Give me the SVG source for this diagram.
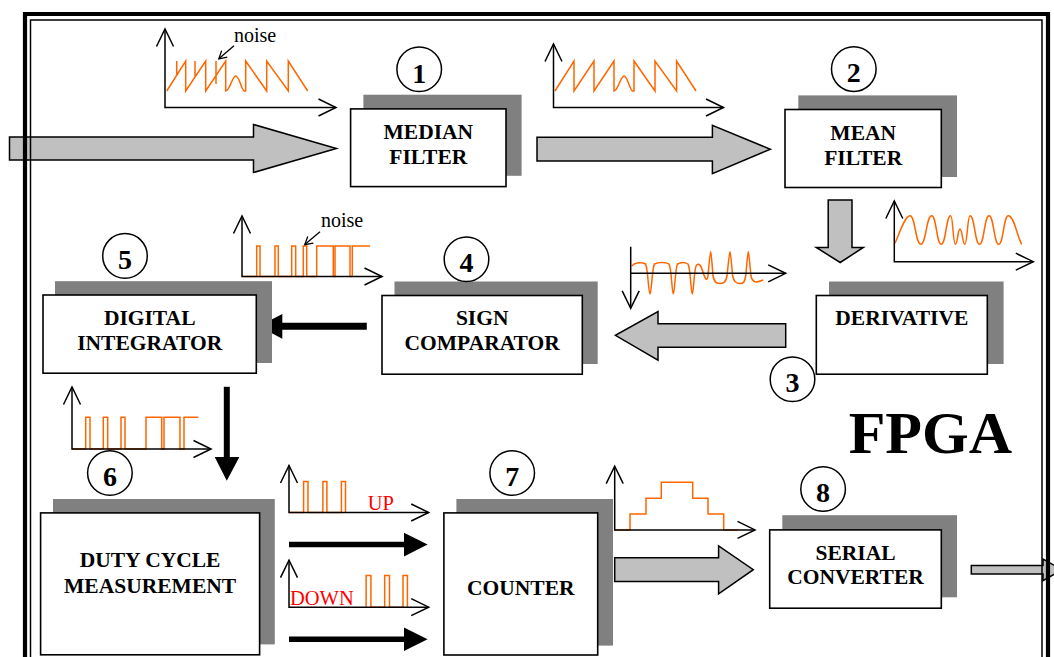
<svg xmlns="http://www.w3.org/2000/svg" width="1054" height="657" viewBox="0 0 1054 657">
<style>
.sh{fill:#808080}
.box{fill:#fff;stroke:#000;stroke-width:1.6}
.lbl{font-family:"Liberation Serif","Times New Roman",serif;font-weight:bold;font-size:21.5px;text-anchor:middle;fill:#000}
.num{font-family:"Liberation Serif","Times New Roman",serif;font-weight:bold;font-size:28px;text-anchor:middle;fill:#000}
.circ{fill:#fff;stroke:#000;stroke-width:1.5}
.ax{fill:none;stroke:#000;stroke-width:1.5;marker-end:url(#ah)}
.ax2{fill:none;stroke:#000;stroke-width:1.5;marker-start:url(#ah);marker-end:url(#ah)}
.wave{fill:none;stroke:#ff6600;stroke-width:1.5;stroke-linejoin:miter}
.garr{fill:#c0c0c0;stroke:#000;stroke-width:1.5;stroke-linejoin:miter}
.barr{fill:#000}
.note{font-family:"Liberation Serif","Times New Roman",serif;font-size:20px;fill:#000}
.red{font-family:"Liberation Serif","Times New Roman",serif;font-size:20.5px;fill:#ff0000}
.ptr{fill:none;stroke:#000;stroke-width:1.3;marker-end:url(#sm)}
</style>
<defs>
<marker id="ah" markerUnits="userSpaceOnUse" viewBox="-20 -10 22 20" refX="0" refY="0" markerWidth="22" markerHeight="20" orient="auto-start-reverse">
<path d="M-17.5,-8.5 L0,0 L-17.5,8.5" fill="none" stroke="#000" stroke-width="1.5"/>
</marker>
<marker id="sm" markerUnits="userSpaceOnUse" viewBox="-10 -6 12 12" refX="0" refY="0" markerWidth="12" markerHeight="12" orient="auto">
<path d="M-7.5,-4.3 L0,0 L-7.5,4.3" fill="none" stroke="#000" stroke-width="1.3"/>
</marker>
</defs>
<rect width="1054" height="657" fill="#fff"/>

<g id="connectors">
<polygon class="garr" points="9.5,137 253.5,137 253.5,124.5 336.4,148.5 253.5,172.5 253.5,160 9.5,160"/>
<polygon class="garr" points="537,137.3 712.4,137.3 712.4,125.3 770.3,149.2 712.4,173.7 712.4,161 537,161"/>
<polygon class="garr" points="828.2,200 852,200 852,247.5 863.3,247.5 840.2,262.5 816.3,247.5 828.2,247.5"/>
<polygon class="garr" points="785.7,323.7 658,323.7 658,311.5 615.4,335.3 658,360.2 658,347.2 785.7,347.2"/>
<polygon class="garr" points="614.7,557.8 718.6,557.8 718.6,545.9 753.3,569.7 718.6,593.9 718.6,581.6 614.7,581.6"/>
<polygon class="garr" points="971.3,565.6 1043,565.6 1043,559 1062,569.8 1043,580.6 1043,574.1 971.3,574.1"/>
<line x1="366.8" y1="326.2" x2="280" y2="326.2" stroke="#000" stroke-width="7"/>
<polygon class="barr" points="282.3,314 258.6,326.2 282.3,338.7"/>
<line x1="226.8" y1="386.8" x2="226.8" y2="458" stroke="#000" stroke-width="6"/>
<polygon class="barr" points="214.7,457 239.4,457 226.8,480.7"/>
<line x1="289" y1="544.6" x2="405" y2="544.6" stroke="#000" stroke-width="5.5"/>
<polygon class="barr" points="404,532.8 427.6,544.6 404,556.5"/>
<line x1="289" y1="639.3" x2="405" y2="639.3" stroke="#000" stroke-width="5.5"/>
<polygon class="barr" points="404,627.5 427.6,639.3 404,651.1"/>
</g>

<g id="waveforms">
<path class="wave" d="M166.7,91 L185.7,61 L185.7,91 L205.7,61 L205.7,91 L225.7,61 L225.7,91 C230,91 232,76 235.7,76 C239.5,76 241.5,91 244.5,91 L245.7,91 L245.7,61 L266.7,91 L266.7,61 L288.3,91 L288.3,61 L307.7,91 M176.7,75.2 V61 M195,77 V61 M216,84 V61"/>
<path class="ax2" d="M165,29 V107.5 H336"/>
<text class="note" x="234" y="42">noise</text>
<path class="ptr" d="M234,45.7 L218.8,58.8"/>

<path class="wave" d="M555,91 L574,61 L574,91 L594,61 L594,91 L614,61 L614,91 C618.3,91 620.3,76 624,76 C627.8,76 629.8,91 632.8,91 L634,91 L634,61 L655,91 L655,61 L676.6,91 L676.6,61 L696,91"/>
<path class="ax2" d="M553.5,44 V107.5 H723.5"/>

<path class="wave" d="M895,243.3 C900,232 905,215.7 910,215.7 C915.4,215.7 915.4,244.3 920.8,244.3 C926.2,244.3 926.2,215.7 931.7,215.7 C936.5,215.7 936.5,244.3 941.2,244.3 C946,244.3 946,215.7 950.7,215.7 C953,215.7 953,244.3 955.3,244.3 C957.7,244.3 957.7,229 960,229 C962.4,229 962.4,244.3 964.8,244.3 C967.4,244.3 967.4,215.7 970,215.7 C974.8,215.7 974.8,244.3 979.5,244.3 C984.3,244.3 984.3,215.7 989,215.7 C993.9,215.7 993.9,244.3 998.7,244.3 C1003.5,244.3 1003.5,215.7 1008.3,215.7 C1014,215.7 1017,236 1021.7,244.3"/>
<path class="ax2" d="M894.3,201 V261.7 H1033.3"/>

<path class="wave" d="M631.7,266 C635,262 642,262 645.5,264 C648,268 648.5,294 650,294 C651.5,294 652,268 654.5,264 C658,262 666,262 669,264 C671.5,268 672,294 673.3,294 C674.7,294 675.2,268 677.5,264 C681,262 685,262 688,264 C690.5,268 691,294 692.3,294 C693.6,294 694,268 696.5,265 C699,263 701,265 703,272 C705,279 707,282 708,276 C709,265 710,251.7 710.7,251.7 C711.4,251.7 712,265 713,276 C714.5,283 717,283.5 720,283.5 C723,283.5 725.5,283 727,276 C728.2,265 729.3,251.7 730,251.7 C730.7,251.7 731.5,265 732.7,276 C734,283 737,283.5 740,283.5 C743,283.5 744.5,283 745.7,276 C746.9,265 747.6,251.7 748.3,251.7 C749,251.7 749.8,265 751,276 C752.5,283 756,283 763.3,280"/>
<path class="ax" d="M630.7,246.7 V308.3"/>
<path class="ax" d="M630.7,273.3 H785.7"/>

<path class="wave" d="M242,276.5 H256.7 V246 H260 V276.5 H275 V246 H278.3 V276.5 H291.7 V246 H295.7 V276.5 H303.3 V246 H306.7 V276.5 H316.7 V246 H333.3 V276.5 H335 V246 H350 V276.5 H352.3 V246 H370"/>
<path class="ax2" d="M242,216 V276.5 H382"/>
<text class="note" x="321" y="227.3">noise</text>
<path class="ptr" d="M320,231.7 L304.8,244.6"/>

<path class="wave" d="M72,449 H85.7 V417.3 H90 V449 H103.3 V417.3 H107.7 V449 H121 V417.3 H125 V449 H146 V417.3 H161.7 V449 H164 V417.3 H180 V449 H184 V417.3 H198.3"/>
<path class="ax2" d="M72,387 V449 H211"/>

<path class="wave" d="M289,512.5 H303.6 V481.4 H308 V512.5 H322.9 V481.4 H326.9 V512.5 H341.4 V481.4 H345.5 V512.5"/>
<path class="ax2" d="M289,465.5 V512.5 H428.7"/>
<text class="red" x="367.8" y="509.5">UP</text>

<path class="wave" d="M366.1,607.2 V575.4 H370.9 V607.2 H384.7 V575.4 H389.5 V607.2 H403 V575.4 H407.4 V607.2"/>
<path class="ax2" d="M289,560.2 V607.2 H428.7"/>
<text class="red" x="290" y="604.8">DOWN</text>

<path class="wave" d="M614.7,529.9 H630 V513.9 H646 V498.2 H661.3 V482.2 H692.7 V498.2 H708 V513.9 H723.7 V529.9 H738"/>
<path class="ax2" d="M614.7,466.2 V529.9 H755"/>
</g>

<g id="node1">
<rect class="sh" x="363.4" y="94.7" width="158.2" height="81.1"/>
<rect class="box" x="350.6" y="108.9" width="155.4" height="77.7"/>
<text class="lbl" x="428.3" y="138.6">MEDIAN</text>
<text class="lbl" x="428.3" y="164">FILTER</text>
<circle class="circ" cx="419.2" cy="69.3" r="22.3"/>
<text class="num" x="419.2" y="82.5">1</text>
</g>

<g id="node2">
<rect class="sh" x="798.3" y="95.4" width="158.7" height="81.6"/>
<rect class="box" x="785" y="109.5" width="156.3" height="78"/>
<text class="lbl" x="863.2" y="139.6">MEAN</text>
<text class="lbl" x="863.2" y="165">FILTER</text>
<circle class="circ" cx="853.8" cy="69.1" r="22.3"/>
<text class="num" x="853.8" y="82.3">2</text>
</g>

<g id="node3">
<rect class="sh" x="829" y="281.5" width="174.6" height="82.5"/>
<rect class="box" x="816.3" y="295.5" width="171" height="78.7"/>
<text class="lbl" x="901.8" y="325">DERIVATIVE</text>
<circle class="circ" cx="792.5" cy="379.2" r="22.3"/>
<text class="num" x="792.5" y="392.4">3</text>
</g>

<g id="node4">
<rect class="sh" x="394.5" y="281.5" width="203.2" height="82.5"/>
<rect class="box" x="382" y="295.5" width="200.3" height="78.7"/>
<text class="lbl" x="482.2" y="325">SIGN</text>
<text class="lbl" x="482.2" y="350">COMPARATOR</text>
<circle class="circ" cx="466.5" cy="259.2" r="22.3"/>
<text class="num" x="466.5" y="272.4">4</text>
</g>

<g id="node5">
<rect class="sh" x="55" y="281.2" width="217" height="81.8"/>
<rect class="box" x="43" y="295" width="213.3" height="78.2"/>
<text class="lbl" x="149.7" y="325">DIGITAL</text>
<text class="lbl" x="149.7" y="349.8">INTEGRATOR</text>
<circle class="circ" cx="125" cy="255.9" r="22.3"/>
<text class="num" x="125" y="269.1">5</text>
</g>

<g id="node6">
<rect class="sh" x="53" y="499" width="221.8" height="145.4"/>
<rect class="box" x="40.6" y="512.9" width="219" height="141.9"/>
<text class="lbl" x="150.1" y="567">DUTY CYCLE</text>
<text class="lbl" x="150.1" y="593">MEASUREMENT</text>
<circle class="circ" cx="109.9" cy="473" r="22.3"/>
<text class="num" x="109.9" y="486.2">6</text>
</g>

<g id="node7">
<rect class="sh" x="456.4" y="499" width="156.6" height="146.6"/>
<rect class="box" x="443.9" y="512.9" width="153.8" height="142.1"/>
<text class="lbl" x="520.8" y="595">COUNTER</text>
<circle class="circ" cx="512.2" cy="473" r="22.3"/>
<text class="num" x="512.2" y="486.2">7</text>
</g>

<g id="node8">
<rect class="sh" x="782.3" y="515.2" width="174.7" height="82.1"/>
<rect class="box" x="769.7" y="529.9" width="171.6" height="78.3"/>
<text class="lbl" x="855.5" y="559.5">SERIAL</text>
<text class="lbl" x="855.5" y="584.4">CONVERTER</text>
<circle class="circ" cx="823.1" cy="489" r="22.3"/>
<text class="num" x="823.1" y="502.2">8</text>
</g>

<g id="frame">
<path d="M25,700 V14 H1048 V700" fill="none" stroke="#000" stroke-width="4.2"/>
<path d="M30.5,700 V20 H1042 V700" fill="none" stroke="#000" stroke-width="1.5"/>
<text x="848.7" y="453" font-family="'Liberation Serif','Times New Roman',serif" font-weight="bold" font-size="60" fill="#000">FPGA</text>
</g>
</svg>
